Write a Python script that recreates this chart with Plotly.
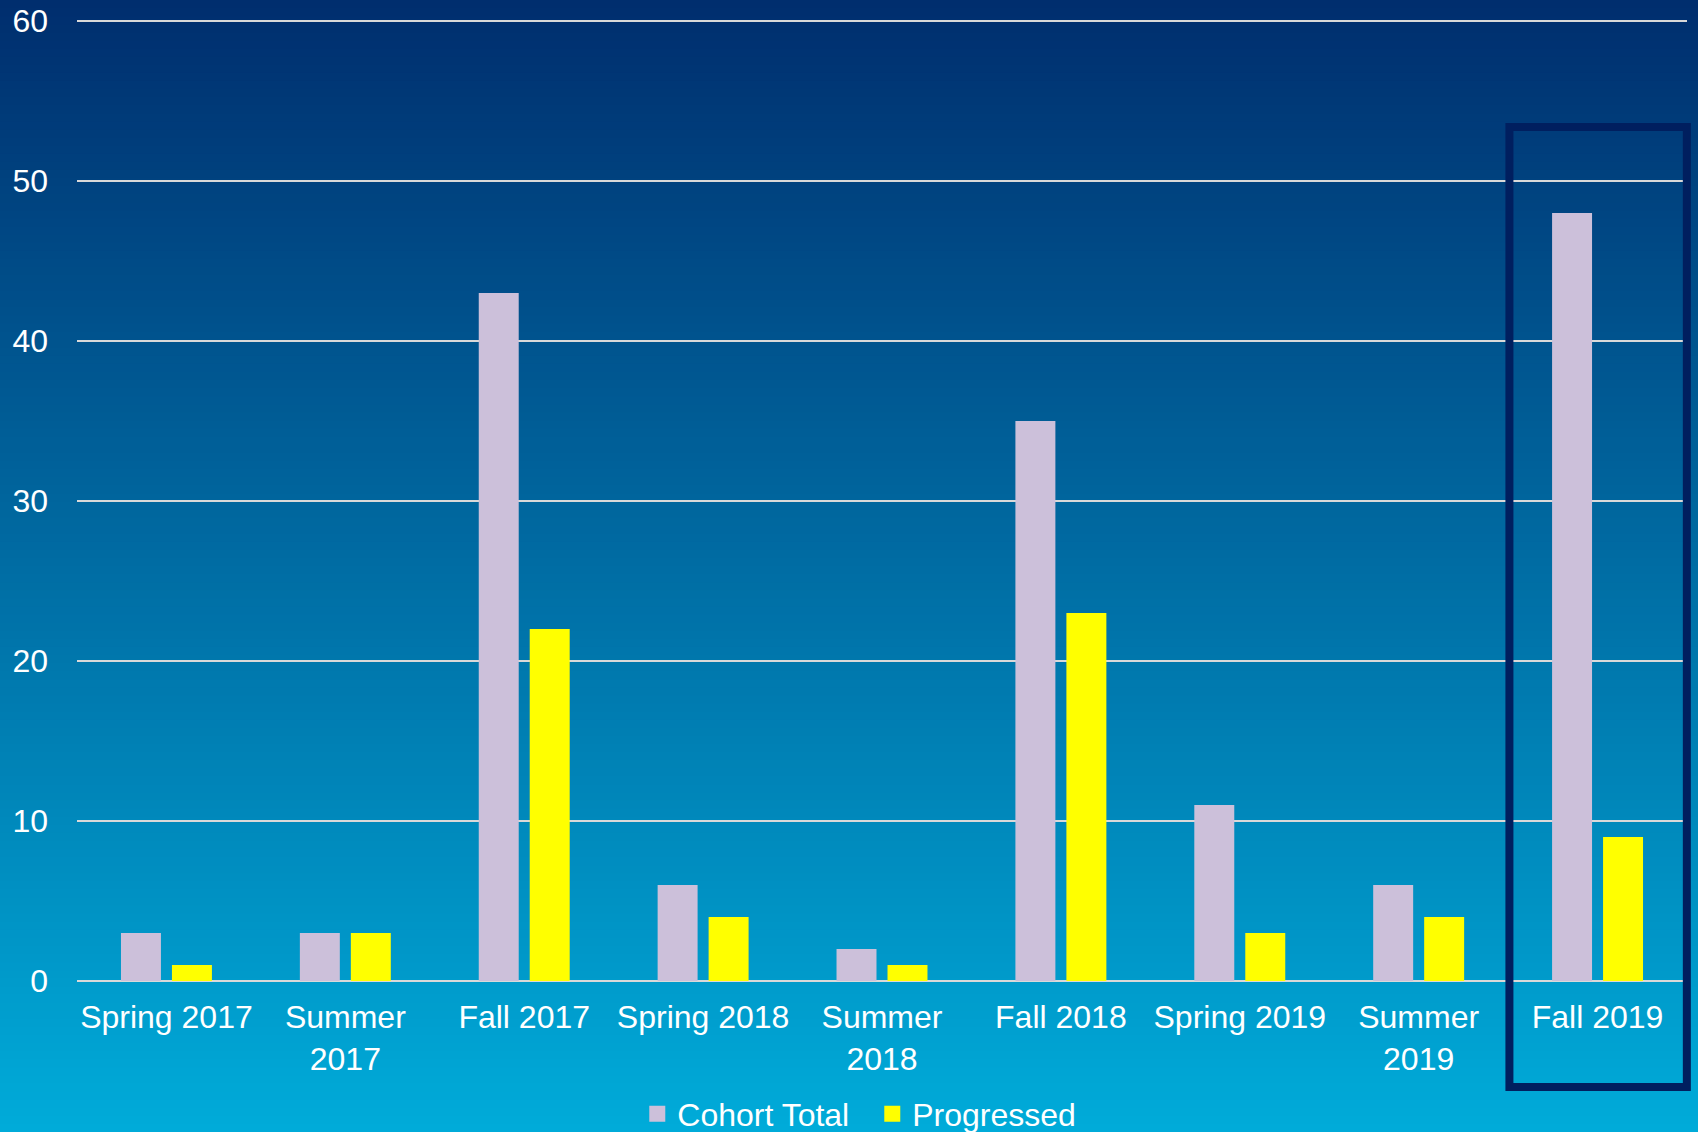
import plotly.graph_objects as go

categories = ["Spring 2017", "Summer<br>2017", "Fall 2017", "Spring 2018", "Summer<br>2018",
              "Fall 2018", "Spring 2019", "Summer<br>2019", "Fall 2019"]
cohort_total = [3, 3, 43, 6, 2, 35, 11, 6, 48]
progressed = [1, 3, 22, 4, 1, 23, 3, 4, 9]
y_ticks = [0, 10, 20, 30, 40, 50, 60]

COHORT_COLOR = "#CCC0DA"
PROG_COLOR = "#FFFF00"

W, H = 1698, 1132
ML, MR, MT, MB = 77, 11, 18, 151
ph = H - MT - MB          # 963 px -> 16 px per unit
y_max = ph / 16.0         # a little headroom so the 60 gridline is drawn

fig = go.Figure()
fig.add_trace(go.Bar(name="Cohort Total", x=categories, y=cohort_total, showlegend=False,
                     marker=dict(color=COHORT_COLOR, line=dict(width=0))))
fig.add_trace(go.Bar(name="Progressed", x=categories, y=progressed, showlegend=False,
                     marker=dict(color=PROG_COLOR, line=dict(width=0))))
# legend entries with larger square swatches
for nm, col in [("Cohort Total", COHORT_COLOR), ("Progressed", PROG_COLOR)]:
    fig.add_trace(go.Scatter(name=nm, x=[None], y=[None], mode="markers",
                             marker=dict(symbol="square", size=16, color=col, line=dict(width=0)),
                             showlegend=True, hoverinfo="skip"))

# gradient background strips
top = (0, 46, 110)
bot = (0, 171, 217)
n = 140
shapes = []
y_lo = -MB / ph
y_hi = 1 + MT / ph
for i in range(n):
    t = i / (n - 1)
    c = tuple(int(round(top[k] + (bot[k] - top[k]) * t)) for k in range(3))
    y1 = y_hi - (y_hi - y_lo) * i / n
    y0 = y_hi - (y_hi - y_lo) * (i + 1) / n - 0.002
    if i == 0:
        y1 = y_hi + 0.2
    if i == n - 1:
        y0 = y_lo - 0.2
    shapes.append(dict(type="rect", xref="paper", yref="paper", x0=-0.2, x1=1.2,
                       y0=y0, y1=y1, fillcolor="rgb(%d,%d,%d)" % c,
                       line=dict(width=0), layer="below"))

# highlight box around the last category (Fall 2019)
shapes.append(dict(type="rect", xref="paper", yref="paper", x0=0.8897, x1=0.9999,
                   y0=-106 / ph, y1=(ph - 109) / ph, line=dict(color="#001F5F", width=8),
                   fillcolor="rgba(0,0,0,0)", layer="above"))

fig.update_layout(
    width=W, height=H,
    autosize=False,
    margin=dict(l=ML, r=MR, t=MT, b=MB, pad=0, autoexpand=False),
    paper_bgcolor="rgb(0,108,164)",
    plot_bgcolor="rgba(0,0,0,0)",
    font=dict(family="Liberation Sans, Arial, sans-serif", size=32, color="white"),
    barmode="group",
    bargap=0.43,
    bargroupgap=0.216,
    shapes=shapes,
    showlegend=True,
    legend=dict(orientation="h", x=0.348, xanchor="left", y=-133 / ph, yanchor="middle",
                font=dict(size=32, color="white"), bgcolor="rgba(0,0,0,0)",
                itemwidth=30, entrywidth=190, tracegroupgap=0),
    xaxis=dict(showgrid=False, showline=False, ticks="", tickfont=dict(size=32),
               ticklabelstandoff=14, automargin=False, range=[-0.5, 8.5]),
    yaxis=dict(range=[0, y_max], tickvals=y_ticks, showgrid=True, gridcolor="#D9D9D9",
               gridwidth=2, zeroline=True, zerolinecolor="#D9D9D9", zerolinewidth=2,
               showline=False, ticks="", tickfont=dict(size=32), ticklabelstandoff=28,
               ticklabeloverflow="allow", automargin=False),
)

fig.write_html("out.html", config={"displayModeBar": False},
               post_script="document.body.style.margin='0px';")
